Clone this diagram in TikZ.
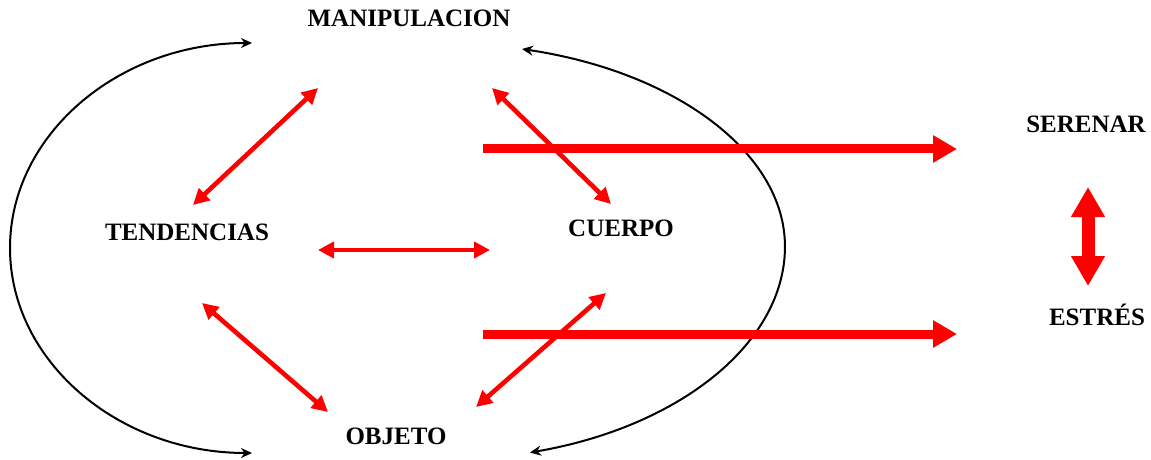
\documentclass[tikz,border=0pt]{standalone}
\usepackage{fontspec}
\setmainfont{Liberation Serif}
\usetikzlibrary{arrows.meta}

\begin{document}
\begin{tikzpicture}[x=0.5pt,y=-0.5pt,>=Stealth,thick,
    lbl/.style={font=\bfseries\fontsize{12.5}{15}\selectfont,inner sep=0pt,text height=8.3pt,text depth=0pt},
    loop arc/.style={black,line width=1pt,{Stealth[length=5.5pt,width=5pt]}-{Stealth[length=5.5pt,width=5pt]}},
    red arr/.style={red,line width=2.3pt,{Triangle[length=8pt,width=8pt]}-{Triangle[length=8pt,width=8pt]}},
    flow arr/.style={red,line width=4.5pt,-{Triangle[length=12pt,width=13pt]}},
    swing arr/.style={red,line width=6.5pt,{Triangle[length=15pt,width=16pt]}-{Triangle[length=15pt,width=16pt]}}]

            \useasboundingbox (0,0) rectangle (1151,460);

            \node[lbl] (1) at (409,18) {MANIPULACION};
            \node[lbl] (2) at (187,232) {TENDENCIAS};
            \node[lbl] (3) at (621,228) {CUERPO};
            \node[lbl] (4) at (396,436) {OBJETO};
            \node[lbl] (5) at (1086,124) {SERENAR};
            \node[lbl] (6) at (1097,317) {ESTRÉS};

            % ends of the free arrows
            \coordinate (l1) at (252,43);
            \coordinate (r1) at (522,49);
            \coordinate (12a) at (318,88);
            \coordinate (12b) at (193,205);
            \coordinate (13a) at (492,88);
            \coordinate (13b) at (611,204);
            \coordinate (23a) at (318,250);
            \coordinate (23b) at (490,250);
            \coordinate (24a) at (202,303);
            \coordinate (24b) at (328,412);
            \coordinate (43a) at (476,407);
            \coordinate (43b) at (606,293);
            \coordinate (f1) at (483,149);
            \coordinate (f2) at (957,149);
            \coordinate (g1) at (483,334);
            \coordinate (g2) at (957,334);
            \coordinate (56a) at (1088,187);
            \coordinate (56b) at (1088,286);

            \draw[loop arc] (l1) arc[start angle=270,end angle=90,x radius=242,y radius=205];
            \draw[loop arc] (r1) arc[start angle=-75.6,end angle=0,x radius=350,y radius=204]
                arc[start angle=0,end angle=74.25,x radius=350,y radius=214];

            \draw[red arr] (12a) to (12b);
            \draw[red arr] (13a) to (13b);
            \draw[red arr] (23a) to (23b);
            \draw[red arr] (24a) to (24b);
            \draw[red arr] (43a) to (43b);

            \draw[flow arr] (f1) to (f2);
            \draw[flow arr] (g1) to (g2);
            \draw[swing arr] (56a) to (56b);

            ;
        \end{tikzpicture}
\end{document}
